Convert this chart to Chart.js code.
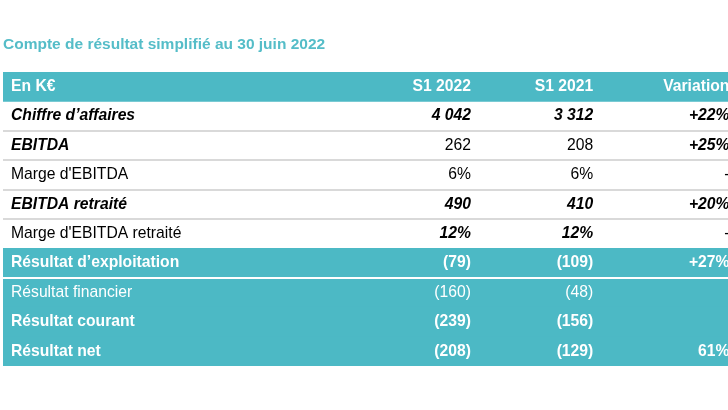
<!DOCTYPE html>
<html>
<head>
<meta charset="utf-8">
<script src="https://cdn.jsdelivr.net/npm/chart.js@4.4.1/dist/chart.umd.min.js"></script>
<style>
  html, body { margin: 0; padding: 0; background: #ffffff; overflow: hidden; }
  #wrap { position: relative; width: 728px; height: 410px; }
</style>
</head>
<body>
<div id="wrap"><canvas id="c"></canvas></div>
<script>
// ---------------- DATA ----------------
const chartTitle = 'Compte de résultat simplifié au 30 juin 2022';
const rowLabels = [
  'En K€',
  'Chiffre d’affaires',
  'EBITDA',
  "Marge d'EBITDA",
  'EBITDA retraité',
  "Marge d'EBITDA retraité",
  'Résultat d’exploitation',
  'Résultat financier',
  'Résultat courant',
  'Résultat net'
];
const s1_2022 = ['S1 2022', '4 042', '262', '6%', '490', '12%', '(79)', '(160)', '(239)', '(208)'];
const s1_2021 = ['S1 2021', '3 312', '208', '6%', '410', '12%', '(109)', '(48)', '(156)', '(129)'];
const variation = ['Variation', '+22%', '+25%', '-', '+20%', '-', '+27%', '', '', '61%'];
const highlightedRows = [true, false, false, false, false, false, true, true, true, true];

// ---------------- STYLE / LAYOUT ----------------
const TEAL = '#4cb9c5';
const TITLE_TEAL = '#55bdc8';
const GRID_GREY = '#d9d9d9';
const FONT = "'Liberation Sans', Arial, Helvetica, sans-serif";
const CELL_SIZE = 15.7;
// column order: label, S1 2022, S1 2021, Variation  (B = bold, I = italic, R = regular)
const CELL_STYLE = [
  ['B', 'B', 'B', 'B'],
  ['BI', 'BI', 'BI', 'BI'],
  ['BI', 'R', 'R', 'BI'],
  ['R', 'R', 'R', 'R'],
  ['BI', 'BI', 'BI', 'BI'],
  ['R', 'BI', 'BI', 'R'],
  ['B', 'B', 'B', 'B'],
  ['R', 'R', 'R', 'R'],
  ['B', 'B', 'B', 'B'],
  ['B', 'B', 'B', 'B']
];
const X_MAX = 6;                         // table width in column units
const COL_RIGHT = [3.873, 4.885, 6.012]; // right edges of the numeric columns (x-scale units)

function cellFont(row, col) {
  const s = (CELL_STYLE[row] || ['R', 'R', 'R', 'R'])[col];
  return {
    family: FONT,
    size: CELL_SIZE,
    weight: s.indexOf('B') >= 0 ? 'bold' : 'normal',
    style: s.indexOf('I') >= 0 ? 'italic' : 'normal',
    lineHeight: 1.2
  };
}
function cellColor(row) {
  return highlightedRows[row] ? '#ffffff' : '#000000';
}
function gridColor(ctx) {
  const i = ctx.index;
  if (i >= 2 && i <= 5) return GRID_GREY;
  if (i === 7) return '#ffffff';
  return 'rgba(0,0,0,0)';
}
function columnAxis(labels, colIndex) {
  return {
    type: 'category',
    axis: 'y',
    labels: labels,
    offset: true,
    position: { x: COL_RIGHT[colIndex - 1] },
    grid: { display: false, drawTicks: false },
    border: { display: false },
    ticks: {
      z: 1,
      padding: 0,
      autoSkip: false,
      font: (ctx) => cellFont(ctx.index, colIndex),
      color: (ctx) => cellColor(ctx.index)
    }
  };
}

new Chart(document.getElementById('c'), {
  type: 'bar',
  data: {
    labels: rowLabels,
    datasets: [{
      data: highlightedRows.map(h => (h ? [0, X_MAX] : null)),
      backgroundColor: TEAL,
      borderWidth: 0,
      borderSkipped: false,
      barPercentage: 1,
      categoryPercentage: 1
    }]
  },
  options: {
    indexAxis: 'y',
    responsive: true,
    maintainAspectRatio: false,
    animation: false,
    devicePixelRatio: 1,
    layout: { padding: { left: 3, right: 0, top: 35.3, bottom: 44 } },
    plugins: {
      legend: { display: false },
      tooltip: { enabled: false },
      title: {
        display: true,
        text: chartTitle,
        align: 'start',
        color: TITLE_TEAL,
        font: { family: FONT, size: 15.5, weight: 'bold', lineHeight: 1.2 },
        padding: { top: 0, bottom: 18.1 }
      }
    },
    scales: {
      x: {
        type: 'linear',
        min: 0,
        max: X_MAX,
        display: false
      },
      y: {
        type: 'category',
        position: 'left',
        offset: true,
        afterFit: (scale) => { scale.width = 0; },
        grid: {
          display: true,
          offset: true,
          drawTicks: false,
          z: 1,
          lineWidth: 2,
          color: gridColor
        },
        border: { display: false },
        ticks: {
          z: 1,
          mirror: true,
          padding: 8,
          autoSkip: false,
          font: (ctx) => cellFont(ctx.index, 0),
          color: (ctx) => cellColor(ctx.index)
        }
      },
      yS22: columnAxis(s1_2022, 1),
      yS21: columnAxis(s1_2021, 2),
      yVar: columnAxis(variation, 3)
    }
  }
});
</script>
</body>
</html>
